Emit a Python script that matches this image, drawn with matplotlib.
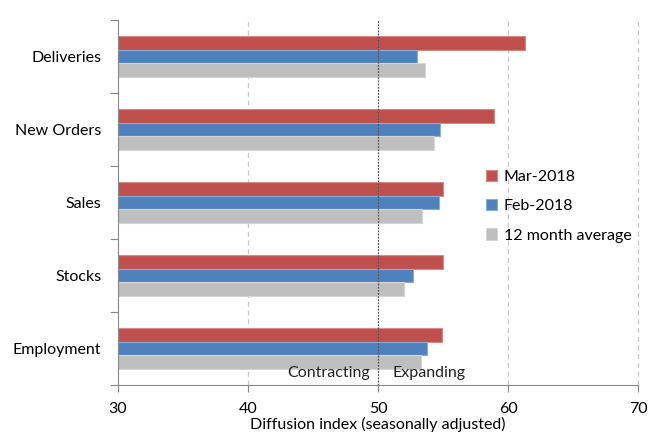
import matplotlib
matplotlib.use("Agg")
import matplotlib.pyplot as plt
import numpy as np

plt.rcParams['font.family'] = ['Lato', 'DejaVu Sans']

categories = ["Deliveries", "New Orders", "Sales", "Stocks", "Employment"]
mar_2018 = [61.3, 58.9, 55.0, 55.0, 54.9]
feb_2018 = [53.0, 54.8, 54.7, 52.7, 53.8]
avg_12m = [53.6, 54.3, 53.4, 52.0, 53.3]
series_names = ["Mar-2018", "Feb-2018", "12 month average"]
xticks = [30, 40, 50, 60, 70]

colors = ["#C0504D", "#4F81BD", "#BFBFBF"]
edges = ["#D88A88", "#8AAEDB", "#D6D6D6"]

fig = plt.figure(figsize=(6.48, 4.34), dpi=100)
ax = fig.add_axes([118/648, 1-385/434, (638-118)/648, (385-20)/434])

n = len(categories)
ypos = np.arange(n)[::-1]  # Deliveries at top
h = 0.185
offsets = [h, 0, -h]
for vals, name, c, ec, off in zip([mar_2018, feb_2018, avg_12m], series_names, colors, edges, offsets):
    ax.barh(ypos + off, np.array(vals) - 30, left=30, height=h, color=c,
            edgecolor=ec, linewidth=0.8, label=name, zorder=2)

ax.set_xlim(30, 70)
ax.set_ylim(-0.5, n - 0.5)

for x in [40, 60, 70]:
    ax.axvline(x, color="#C8C8C8", linestyle=(0, (4, 3)), linewidth=0.9, zorder=1, clip_on=False)
ax.axvline(50, color="#555555", linestyle=(0, (1.5, 1)), linewidth=0.9, zorder=3)

ax.set_xticks(xticks)
ax.set_xticklabels([str(t) for t in xticks], fontsize=11.5)
ax.set_yticks(ypos)
ax.set_yticklabels(categories, fontsize=11.5)
ax.tick_params(axis='y', which='major', length=0, pad=12)
ax.set_yticks(np.arange(-0.5, n, 1.0), minor=True)
ax.tick_params(axis='y', which='minor', length=6, color="#888888", width=0.8)
ax.tick_params(axis='x', which='major', length=5, color="#888888", width=0.8, pad=7)

for s in ["top", "right"]:
    ax.spines[s].set_visible(False)
for s in ["left", "bottom"]:
    ax.spines[s].set_color("#888888")
    ax.spines[s].set_linewidth(0.8)

ax.set_xlabel("Diffusion index (seasonally adjusted)", fontsize=11.5, labelpad=1)

ax.text(49.4, -0.43, "Contracting", ha="right", va="bottom", fontsize=11.5, color="#222222")
ax.text(51.1, -0.43, "Expanding", ha="left", va="bottom", fontsize=11.5, color="#222222")

leg = ax.legend(loc="center left", bbox_to_anchor=(0.68, 0.49), frameon=False,
                fontsize=11.5, handlelength=0.7, handleheight=0.7, handletextpad=0.4,
                labelspacing=0.95)

fig.savefig("out.png", dpi=100)
